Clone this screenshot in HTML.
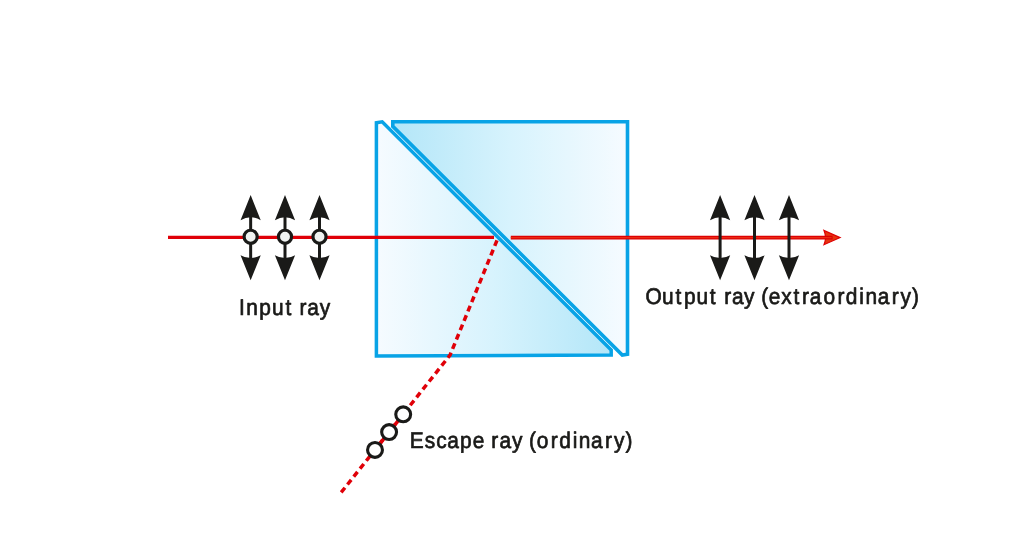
<!DOCTYPE html>
<html lang="en">
<head>
<meta charset="utf-8">
<title>Glan–Taylor prism</title>
<style>
html,body{margin:0;padding:0;background:#fff;}
body{width:1032px;height:545px;overflow:hidden;}
svg{display:block;will-change:transform;}
text{font-family:"Liberation Sans",sans-serif;font-size:22.7px;text-rendering:geometricPrecision;fill:#1a1a18;stroke:#1a1a18;stroke-width:0.72px;stroke-linejoin:round;}
</style>
</head>
<body>
<svg width="1032" height="545" viewBox="0 0 1032 545">
<defs>
<linearGradient id="gLL" gradientUnits="userSpaceOnUse" x1="376" y1="0" x2="612" y2="0">
<stop offset="0" stop-color="#f6fbff"/>
<stop offset="0.5" stop-color="#d7f3fd"/>
<stop offset="1" stop-color="#b3e6f8"/>
</linearGradient>
<linearGradient id="gUR" gradientUnits="userSpaceOnUse" x1="393" y1="0" x2="628" y2="0">
<stop offset="0" stop-color="#b3e6f8"/>
<stop offset="0.5" stop-color="#d7f3fd"/>
<stop offset="1" stop-color="#f6fbff"/>
</linearGradient>
<path id="ah" d="M0,0 L10.1,25.1 Q5,22.2 0,22.2 Q-5,22.2 -10.1,25.1 Z"/>
<g id="dbl">
<line x1="0" y1="-22" x2="0" y2="22" stroke="#1a1a18" stroke-width="3"/>
<use href="#ah" x="0" y="-42.6" fill="#1a1a18"/>
<use href="#ah" transform="translate(0,42.6) scale(1,-1)" fill="#1a1a18"/>
</g>
</defs>
<rect width="1032" height="545" fill="#ffffff"/>

<!-- prisms -->
<polygon points="376.4,122.7 382.2,121.8 611.2,350.05 611.2,355.1 376.4,356" fill="url(#gLL)" stroke="#08a3e6" stroke-width="3.5" stroke-linejoin="miter"/>
<polygon points="392.8,121.7 627.5,121.7 627.5,354.2 622.3,355 392.8,126.4" fill="url(#gUR)" stroke="#08a3e6" stroke-width="3.6" stroke-linejoin="miter"/>

<!-- rays -->
<line x1="168" y1="237.4" x2="494" y2="237.4" stroke="#e00008" stroke-width="3.1"/>
<path d="M840.1,237.6 L824,230.5 Q827,237.6 824,244.7 Z" fill="#e6360f" stroke="#de0004" stroke-width="1.2" stroke-linejoin="miter" stroke-miterlimit="10"/>
<line x1="510.8" y1="237.6" x2="832.6" y2="237.6" stroke="#de0004" stroke-width="3.6"/>
<line x1="510.8" y1="237.6" x2="831.6" y2="237.6" stroke="#ea2c12" stroke-width="1.4"/>
<polyline points="497,240.4 450.06,355.06 341.15,492.5" fill="none" stroke="#e00008" stroke-width="3.5" stroke-dasharray="6 4.11"/>

<!-- input polarisation -->
<g>
<use href="#dbl" x="250.65" y="237.7"/>
<use href="#dbl" x="285" y="237.7"/>
<use href="#dbl" x="319.5" y="237.7"/>
<circle cx="250.65" cy="236.8" r="6.55" fill="#f0f3f1" stroke="#1a1a18" stroke-width="3.2"/>
<circle cx="285" cy="236.8" r="6.55" fill="#f0f3f1" stroke="#1a1a18" stroke-width="3.2"/>
<circle cx="319.5" cy="236.8" r="6.55" fill="#f0f3f1" stroke="#1a1a18" stroke-width="3.2"/>
</g>
<!-- output polarisation -->
<g>
<use href="#dbl" x="720.1" y="237.7"/>
<use href="#dbl" x="754.5" y="237.7"/>
<use href="#dbl" x="789" y="237.7"/>
</g>
<!-- escape circles -->
<line x1="403.2" y1="414.3" x2="375" y2="449.9" stroke="#e00008" stroke-width="3.5"/>
<circle cx="403.2" cy="414.3" r="7.45" fill="#ffffff" stroke="#1a1a18" stroke-width="3.1"/>
<circle cx="389.1" cy="432.1" r="7.45" fill="#ffffff" stroke="#1a1a18" stroke-width="3.1"/>
<circle cx="375" cy="449.9" r="7.45" fill="#ffffff" stroke="#1a1a18" stroke-width="3.1"/>

<!-- labels -->
<text transform="scale(0.92,1)" x="259.73 267.64 281.86 295.72 310.40 316.71 325.55 334.02 347.69" y="315.25">Input ray</text>
<text transform="scale(0.92,1)" x="701.50 719.68 734.26 743.38 757.18 771.54 777.85 787.18 795.65 808.78 820.13 827.49 835.72 849.16 862.63 871.85 880.11 895.16 910.44 919.43 934.06 940.68 954.13 969.24 978.83 991.42" y="304.45">Output ray (extraordinary)</text>
<text transform="scale(0.92,1)" x="445.41 461.76 474.14 486.09 500.12 513.87 526.50 534.02 542.93 556.66 568.01 574.88 583.52 598.70 607.91 622.59 629.05 642.39 657.56 667.31 679.79" y="447.75">Escape ray (ordinary)</text>
</svg>
</body>
</html>
